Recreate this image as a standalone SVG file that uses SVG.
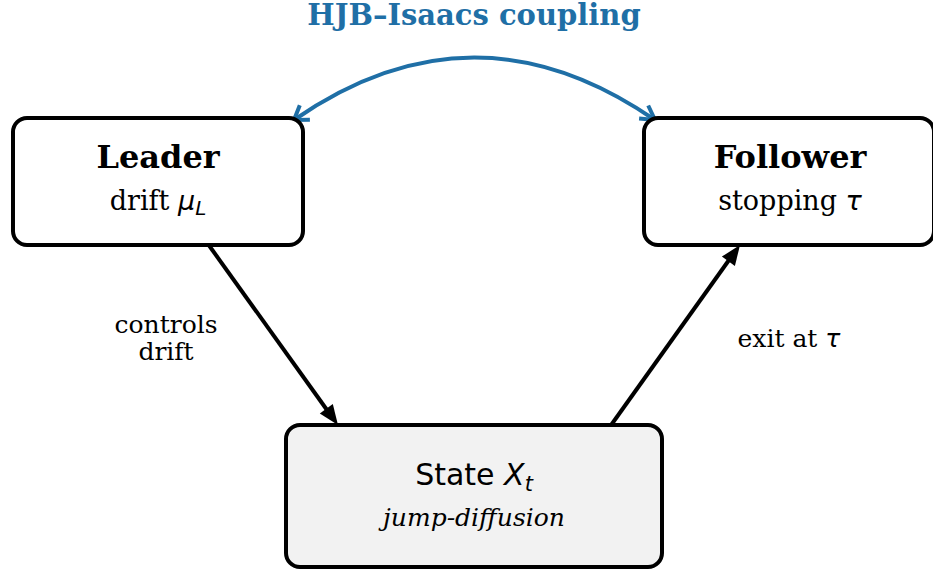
<svg xmlns="http://www.w3.org/2000/svg" width="933" height="574" viewBox="0 0 933 574">
<style>
.box{stroke:#000;stroke-width:4;}
.serif{font-family:"DejaVu Serif","Liberation Serif",serif;}
.sans{font-family:"DejaVu Sans","Liberation Sans",sans-serif;}
.title{font-weight:bold;font-size:32px;}
.sub{font-size:27px;}
.lbl{font-size:25px;}
.conn{stroke:#000;stroke-width:4;fill:none;}
.blue{stroke:#1f6fa6;stroke-width:4;fill:none;}
</style>
<rect width="933" height="574" fill="#fff"/>
<text x="474" y="25" text-anchor="middle" class="serif" font-weight="bold" font-size="29" fill="#1f6fa6">HJB–Isaacs coupling</text>
<g id="connectors">
<path class="blue" d="M294,120 Q474,-5 655,120"/>
<path class="blue" d="M309.9,119.7 L294,120 L299.8,105.3"/>
<path class="blue" d="M648.2,105.5 L655,120 L639.1,118.6"/>
<line class="conn" x1="208" y1="244" x2="327" y2="410"/>
<path d="M319.8,413.5 L338,425 L332.8,404.1 Z" fill="#000"/>
<line class="conn" x1="609" y1="428" x2="729" y2="260"/>
<path d="M734.9,266 L740,245 L721.9,256.6 Z" fill="#000"/>
<text x="166" y="333" text-anchor="middle" class="serif lbl">controls</text>
<text x="166" y="360" text-anchor="middle" class="serif lbl">drift</text>
<text x="789" y="347" text-anchor="middle" class="serif lbl">exit at <tspan class="sans" font-style="italic">τ</tspan></text>
</g>
<g id="leader">
<rect class="box" x="13" y="118" width="290" height="127" rx="14" fill="#fff"/>
<text x="158" y="168" text-anchor="middle" class="serif title">Leader</text>
<text x="158" y="210" text-anchor="middle" class="serif sub">drift <tspan class="sans" font-style="italic">μ</tspan><tspan class="sans" font-style="italic" font-size="20" dy="5">L</tspan></text>
</g>
<g id="follower">
<rect class="box" x="644" y="118" width="290" height="127" rx="14" fill="#fff"/>
<text x="790" y="168" text-anchor="middle" class="serif title">Follower</text>
<text x="790" y="210" text-anchor="middle" class="serif sub">stopping <tspan class="sans" font-style="italic">τ</tspan></text>
</g>
<g id="state">
<rect class="box" x="286" y="425" width="376" height="142" rx="14" fill="#f2f2f2"/>
<text x="474" y="485" text-anchor="middle" class="sans" font-size="30">State <tspan font-style="italic">X</tspan><tspan font-style="italic" font-size="21" dy="6">t</tspan></text>
<text x="474" y="526" text-anchor="middle" class="serif" font-style="italic" font-size="25">jump-diffusion</text>
</g>
</svg>
